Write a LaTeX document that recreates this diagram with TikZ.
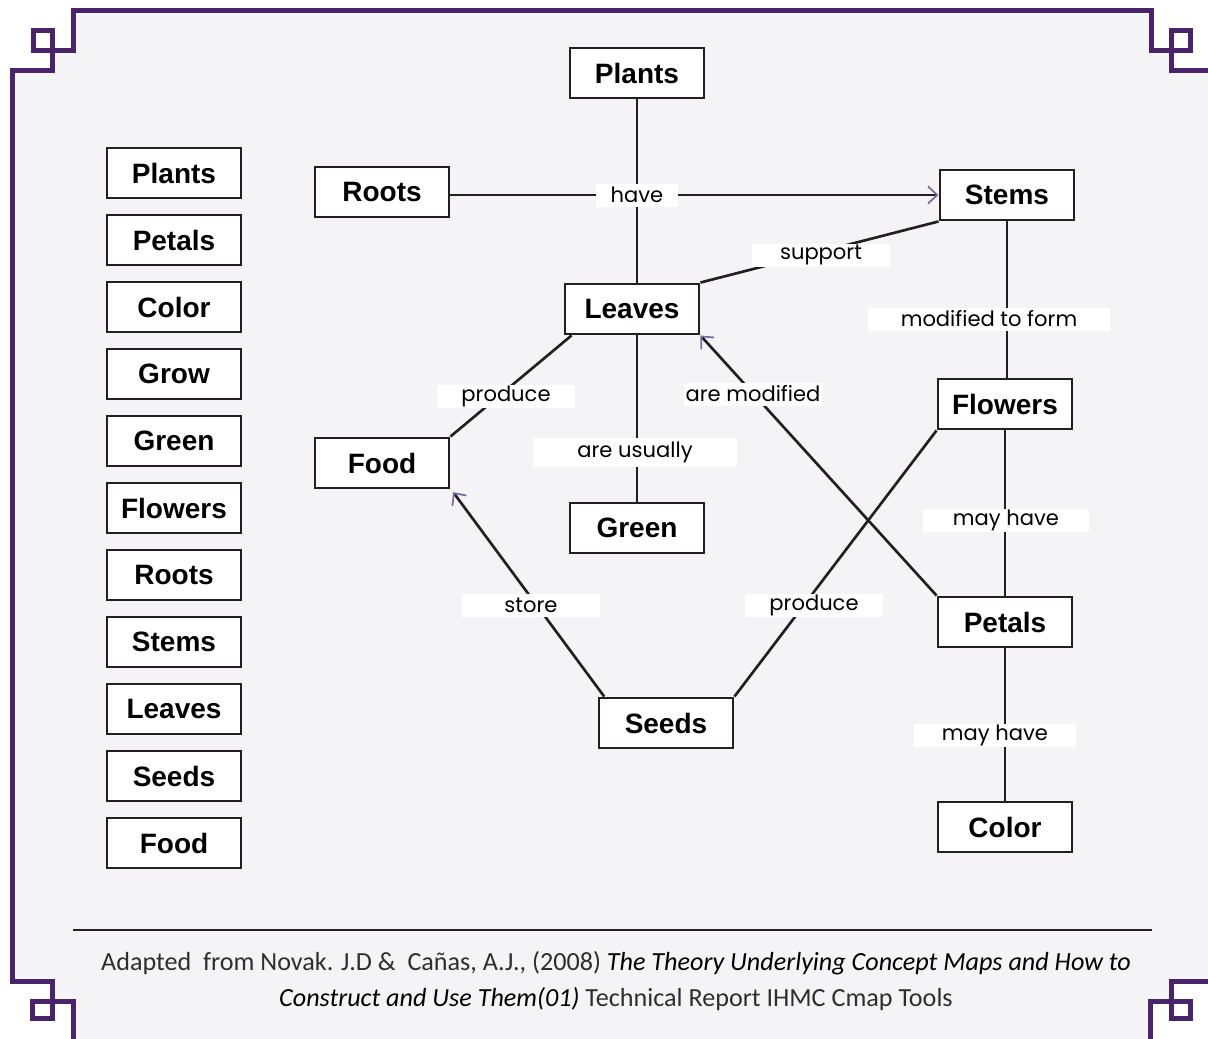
\documentclass[tikz,border=0pt]{standalone}
\usepackage{fontspec}
\setmainfont{Liberation Sans}
\newfontfamily\linkfont{Poppins}
\newfontfamily\reffont{Carlito}
\usetikzlibrary{arrows.meta}
\definecolor{framec}{HTML}{4A2468}
\definecolor{paper}{HTML}{F4F4F6}
\definecolor{tipc}{HTML}{7B6A9C}
\definecolor{ink}{HTML}{231F20}

\begin{document}
\begin{tikzpicture}[x=0.75pt, y=-0.75pt,
  cbox/.style={draw=ink, line width=2.2pt, fill=white, minimum width=100.5pt, minimum height=37.5pt, inner sep=0pt, font=\bfseries\fontsize{21}{21}\selectfont},
  conn/.style={draw=ink, line width=2pt},
  arrowend/.style={-{Straight Barb[length=7pt,width=13pt,line width=1.3pt,color=tipc]}},
  lbl/.style={fill=white, inner sep=0pt, minimum height=17.25pt, minimum width=103.5pt, font=\linkfont\fontsize{15.8}{15.8}\selectfont},
  framepen/.style={draw=framec, line width=3.75pt}]

\useasboundingbox (0,0) rectangle (1208,1039);
\clip (0,0) rectangle (1208,1039);
\fill[white] (0,0) rectangle (1208,1039);
\filldraw[fill=paper, framepen] (12.5,981.5) -- (12.5,70.5) -- (52.5,70.5) -- (52.5,50.5) -- (73.5,50.5) -- (73.5,10.5) -- (1151,10.5) -- (1151,50.5) -- (1171,50.5) -- (1171,70.5) -- (1230,70.5) -- (1230,981) -- (1171,981) -- (1171,1001) -- (1150,1001) -- (1150,1060) -- (73,1060) -- (73,1001) -- (52.5,1001) -- (52.5,981.5) -- cycle;
\draw[framepen] (33,30.5) rectangle (52.5,50.5);
\draw[framepen] (1171,30.5) rectangle (1190.5,50.5);
\draw[framepen] (32.5,1001) rectangle (52.5,1018);
\draw[framepen] (1171,1001) rectangle (1190.5,1018);

\node[cbox] (wPlants) at (174,173) {Plants};
\node[cbox] (wPetals) at (174,240) {Petals};
\node[cbox] (wColor) at (174,307) {Color};
\node[cbox] (wGrow) at (174,374) {Grow};
\node[cbox] (wGreen) at (174,441) {Green};
\node[cbox] (wFlowers) at (174,508) {Flowers};
\node[cbox] (wRoots) at (174,575) {Roots};
\node[cbox] (wStems) at (174,642) {Stems};
\node[cbox] (wLeaves) at (174,709) {Leaves};
\node[cbox] (wSeeds) at (174,776) {Seeds};
\node[cbox] (wFood) at (174,843) {Food};

\node[cbox] (Plants) at (637,73) {Plants};
\node[cbox] (Roots) at (382,192) {Roots};
\node[cbox] (Stems) at (1007,195) {Stems};
\node[cbox] (Leaves) at (632,309) {Leaves};
\node[cbox] (Food) at (382,463) {Food};
\node[cbox] (Green) at (637,528) {Green};
\node[cbox] (Flowers) at (1005,404) {Flowers};
\node[cbox] (Petals) at (1005,622) {Petals};
\node[cbox] (Seeds) at (666,723) {Seeds};
\node[cbox] (Color) at (1005,827) {Color};

\draw[conn] (Plants.south) -- (Plants.south |- Leaves.north);
\draw[conn, arrowend] (Roots.east |- Stems.west) -- (Stems.west);
\draw[conn] (Leaves.north east) -- (Stems.south west);
\draw[conn] (Stems.south) -- (Stems.south |- Flowers.north);
\draw[conn] ([xshift=6pt]Leaves.south west) -- (Food.north east);
\draw[conn] (Green.north |- Leaves.south) -- (Green.north);
\draw[conn, arrowend] (Petals.north west) -- (Leaves.south east);
\draw[conn] (Flowers.south) -- (Petals.north);
\draw[conn] (Petals.south) -- (Color.north);
\draw[conn, arrowend] ([xshift=5pt]Seeds.north west) -- ([xshift=2pt,yshift=-2pt]Food.south east);
\draw[conn] (Seeds.north east) -- (Flowers.south west);

\node[lbl, minimum width=62pt] (have) at (637,195) {have};
\node[lbl] (support) at (821,255) {support};
\node[lbl, minimum width=181.5pt] (modForm) at (989,319) {modified to form};
\node[lbl] (produceA) at (506,396) {produce};
\node[lbl] (areMod) at (753,394) {are modified};
\node[lbl, minimum width=153pt, minimum height=21.75pt] (areUsually) at (635,452) {are usually};
\node[lbl, minimum width=124pt] (mayHaveA) at (1006,520) {may have};
\node[lbl] (store) at (531,605) {store};
\node[lbl] (produceB) at (814,605) {produce};
\node[lbl, minimum width=121.5pt] (mayHaveB) at (995,735) {may have};

\draw[ink, line width=2pt] (73,930) -- (1152,930);
\node[font=\reffont\fontsize{19.6}{27}\selectfont, align=center, text=black!82] (ref) at (616,981) {Adapted\ \ from Novak. J.D \&\ \ Cañas, A.J., (2008) {\color{black}\itshape The Theory Underlying Concept Maps and How to}\\{\color{black}\itshape Construct and Use Them(01)} Technical Report IHMC Cmap Tools};

\end{tikzpicture}
\end{document}
